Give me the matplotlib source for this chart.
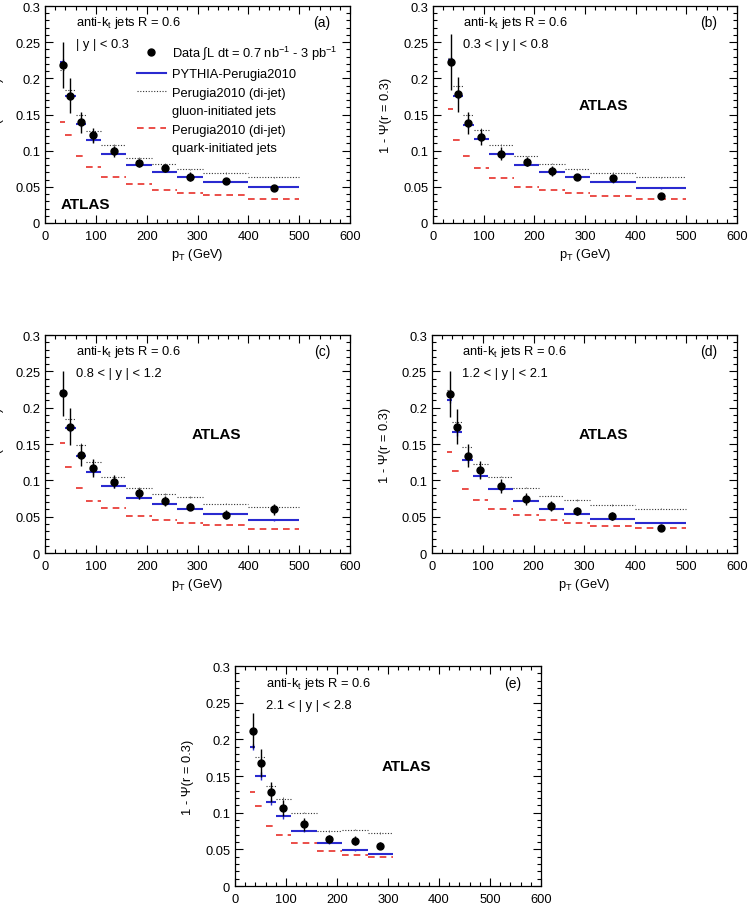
import matplotlib
matplotlib.use("Agg")
import matplotlib.pyplot as plt
from matplotlib.lines import Line2D
from matplotlib.ticker import MultipleLocator

plt.rcParams['font.family'] = ['Liberation Sans', 'DejaVu Sans']
plt.rcParams['mathtext.fontset'] = 'custom'
plt.rcParams['mathtext.rm'] = 'Liberation Sans'
plt.rcParams['mathtext.it'] = 'Liberation Sans:italic'

bin_edges = [30, 40, 60, 80, 110, 160, 210, 260, 310, 400, 500]
bin_centers = [35, 50, 70, 95, 135, 185, 235, 285, 355, 450]

data_a = [0.218, 0.176, 0.139, 0.121, 0.099, 0.083, 0.076, 0.064, 0.058, 0.049]
err_a = [0.032, 0.024, 0.015, 0.010, 0.008, 0.006, 0.005, 0.006, 0.004, 0.004]
pythia_a = [0.223, 0.175, 0.137, 0.115, 0.096, 0.080, 0.071, 0.063, 0.056, 0.050]
gluon_a = [0.212, 0.184, 0.149, 0.127, 0.108, 0.090, 0.082, 0.074, 0.069, 0.063]
quark_a = [0.139, 0.121, 0.092, 0.077, 0.063, 0.054, 0.046, 0.042, 0.039, 0.033]

data_b = [0.223, 0.178, 0.138, 0.119, 0.096, 0.085, 0.072, 0.063, 0.062, 0.038]
err_b = [0.039, 0.024, 0.015, 0.011, 0.009, 0.006, 0.007, 0.004, 0.005, 0.004]
pythia_b = [0.226, 0.176, 0.136, 0.116, 0.095, 0.080, 0.070, 0.063, 0.056, 0.048]
gluon_b = [0.228, 0.189, 0.149, 0.129, 0.108, 0.092, 0.082, 0.074, 0.069, 0.063]
quark_b = [0.157, 0.115, 0.092, 0.076, 0.062, 0.050, 0.045, 0.041, 0.038, 0.033]

data_c = [0.220, 0.174, 0.135, 0.117, 0.098, 0.082, 0.072, 0.064, 0.053, 0.060]
err_c = [0.031, 0.025, 0.015, 0.012, 0.009, 0.008, 0.007, 0.005, 0.006, 0.008]
pythia_c = [0.222, 0.172, 0.134, 0.111, 0.092, 0.076, 0.067, 0.060, 0.054, 0.045]
gluon_c = [0.225, 0.184, 0.149, 0.125, 0.105, 0.090, 0.081, 0.077, 0.068, 0.063]
quark_c = [0.151, 0.119, 0.089, 0.072, 0.062, 0.051, 0.046, 0.042, 0.038, 0.033]

data_d = [0.219, 0.174, 0.134, 0.114, 0.092, 0.074, 0.065, 0.058, 0.051, 0.034]
err_d = [0.032, 0.024, 0.016, 0.012, 0.010, 0.008, 0.007, 0.005, 0.005, 0.003]
pythia_d = [0.211, 0.166, 0.128, 0.106, 0.088, 0.072, 0.061, 0.054, 0.047, 0.041]
gluon_d = [0.224, 0.181, 0.146, 0.123, 0.105, 0.090, 0.079, 0.073, 0.066, 0.061]
quark_d = [0.139, 0.113, 0.088, 0.073, 0.061, 0.053, 0.046, 0.042, 0.037, 0.034]

data_e = [0.212, 0.168, 0.128, 0.106, 0.084, 0.064, 0.062, 0.055]
err_e = [0.024, 0.019, 0.014, 0.011, 0.009, 0.005, 0.006, 0.005]
pythia_e = [0.189, 0.150, 0.114, 0.095, 0.075, 0.058, 0.049, 0.044]
gluon_e = [0.212, 0.176, 0.137, 0.119, 0.100, 0.075, 0.077, 0.072]
quark_e = [0.128, 0.109, 0.082, 0.069, 0.059, 0.048, 0.042, 0.039]

pythia_err = [0.004, 0.005, 0.004, 0.003, 0.002, 0.001, 0.001, 0.001, 0.001, 0.001]
gluon_err = [0.005, 0.004, 0.003, 0.002, 0.001, 0.001, 0.001, 0.001, 0.001, 0.001]

panels = [
    ('(a)', '| y | < 0.3', data_a, err_a, pythia_a, gluon_a, quark_a),
    ('(b)', '0.3 < | y | < 0.8', data_b, err_b, pythia_b, gluon_b, quark_b),
    ('(c)', '0.8 < | y | < 1.2', data_c, err_c, pythia_c, gluon_c, quark_c),
    ('(d)', '1.2 < | y | < 2.1', data_d, err_d, pythia_d, gluon_d, quark_d),
    ('(e)', '2.1 < | y | < 2.8', data_e, err_e, pythia_e, gluon_e, quark_e),
]

positions = [
    [0.0602, 0.7544, 0.4078, 0.2379],
    [0.5789, 0.7544, 0.4064, 0.2379],
    [0.0602, 0.3925, 0.4078, 0.2390],
    [0.5775, 0.3925, 0.4078, 0.2390],
    [0.3142, 0.0274, 0.4090, 0.2412],
]

BLUE = '#2a2ad0'
RED = '#e8302a'
FS = 9.3

fig = plt.figure(figsize=(7.48, 9.12), dpi=100)

for (tag, yrange, dat, err, pyt, glu, qua), pos in zip(panels, positions):
    ax = fig.add_axes(pos)
    n = len(dat)
    lo = bin_edges[:n]
    hi = bin_edges[1:n + 1]
    cen = bin_centers[:n]
    ax.hlines(qua, lo, hi, colors=RED, linestyles=(0, (4, 3)), lw=1.2)
    ax.hlines(glu, lo, hi, colors='#333333', linestyles=(0, (1, 1.5)), lw=0.8)
    ax.vlines(cen, [g - e for g, e in zip(glu, gluon_err[:n])],
              [g + e for g, e in zip(glu, gluon_err[:n])], colors='#555555', lw=0.6)
    ax.hlines(pyt, lo, hi, colors=BLUE, lw=1.5)
    ax.vlines(cen, [p - e for p, e in zip(pyt, pythia_err[:n])],
              [p + e for p, e in zip(pyt, pythia_err[:n])], colors=BLUE, lw=1.0)
    ax.errorbar(cen, dat, yerr=err, fmt='o', color='black', ms=5, elinewidth=1.0,
                capsize=0, zorder=5)

    ax.set_xlim(0, 600)
    ax.set_ylim(0, 0.3)
    ax.xaxis.set_major_locator(MultipleLocator(100))
    ax.xaxis.set_minor_locator(MultipleLocator(20))
    ax.yaxis.set_minor_locator(MultipleLocator(0.01))
    ax.set_yticks([0, 0.05, 0.1, 0.15, 0.2, 0.25, 0.3])
    ax.set_yticklabels(['0', '0.05', '0.1', '0.15', '0.2', '0.25', '0.3'])
    ax.tick_params(which='both', direction='in', top=True, right=True, labelsize=FS,
                   width=0.8)
    ax.tick_params(which='major', length=6)
    ax.tick_params(which='minor', length=3)
    ax.tick_params(axis='x', which='major', pad=5)
    for s in ax.spines.values():
        s.set_linewidth(0.9)

    ax.set_ylabel('1 - Ψ(r = 0.3)', fontsize=FS)
    ax.yaxis.set_label_coords(-0.135, 0.5)
    ax.set_xlabel('p$_\\mathregular{T}$ (GeV)', fontsize=FS)
    ax.xaxis.set_label_coords(0.5, -0.105)

    ax.text(0.10, 0.925, 'anti-k$_\\mathregular{t}$ jets R = 0.6', transform=ax.transAxes,
            fontsize=FS, va='center', ha='left')
    ax.text(0.10, 0.825, yrange, transform=ax.transAxes, fontsize=FS, va='center', ha='left')
    ax.text(0.935, 0.925, tag, transform=ax.transAxes, fontsize=FS + 0.7, va='center', ha='right')

    if tag == '(a)':
        ax.text(0.052, 0.088, 'ATLAS', transform=ax.transAxes, fontsize=11,
                fontweight='bold', va='center', ha='left')
        handles = [
            Line2D([], [], marker='o', color='black', linestyle='none', ms=5),
            Line2D([], [], color=BLUE, lw=1.5),
            Line2D([], [], color='#333333', lw=0.8, linestyle=(0, (1, 1.5))),
            Line2D([], [], linestyle='none'),
            Line2D([], [], color=RED, lw=1.2, linestyle=(0, (4, 3))),
            Line2D([], [], linestyle='none'),
        ]
        labels = ['Data ∫L dt = 0.7 nb$^{-1}$ - 3 pb$^{-1}$', 'PYTHIA-Perugia2010',
                  'Perugia2010 (di-jet)', 'gluon-initiated jets',
                  'Perugia2010 (di-jet)', 'quark-initiated jets']
        ax.legend(handles, labels, loc='upper left', bbox_to_anchor=(0.30, 0.828),
                  frameon=False, fontsize=FS, handlelength=2.3, handletextpad=0.45,
                  labelspacing=0.5, borderpad=0, borderaxespad=0, numpoints=1)
    else:
        ax.text(0.48, 0.545, 'ATLAS', transform=ax.transAxes, fontsize=11,
                fontweight='bold', va='center', ha='left')

fig.savefig('out.png', dpi=100)
